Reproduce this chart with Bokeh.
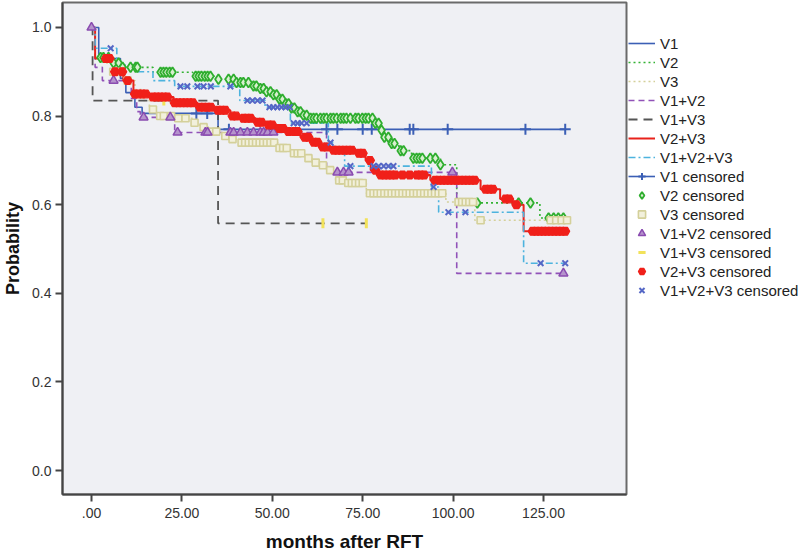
import numpy as np
from bokeh.plotting import figure
from bokeh.layouts import row
from bokeh.models import Range1d, FixedTicker, Legend, LegendItem
from bokeh.embed import file_html
from bokeh.resources import INLINE

# ---------------- data ----------------
x_ticks = [0, 25, 50, 75, 100, 125]
x_tick_labels = [".00", "25.00", "50.00", "75.00", "100.00", "125.00"]
y_ticks = [0.0, 0.2, 0.4, 0.6, 0.8, 1.0]
y_tick_labels = ["0.0", "0.2", "0.4", "0.6", "0.8", "1.0"]

groups = ["V1", "V2", "V3", "V1+V2", "V1+V3", "V2+V3", "V1+V2+V3"]

# step curves: event times and survival after each time, plus end of follow-up
v1_times = [0, 2, 8, 9.5, 12, 14, 35]
v1_surv = [1.0, 0.93, 0.885, 0.853, 0.82, 0.806, 0.77]
v1_end = 131
v1_cens = [29, 32, 38, 65, 68, 75, 77.5, 88, 89, 98.5, 120, 131]

v2_times = [0, 1, 5, 8, 17, 28, 35, 40, 44, 46, 48, 50, 52, 53.5, 55, 56.5, 58, 60,
            78, 79.5, 81, 83, 85, 88.5, 96.5, 101, 124]
v2_surv = [1.0, 0.932, 0.92, 0.91, 0.899, 0.89, 0.883, 0.876, 0.868, 0.862, 0.855,
           0.848, 0.838, 0.828, 0.818, 0.81, 0.802, 0.795, 0.784, 0.768, 0.752,
           0.738, 0.722, 0.705, 0.69, 0.604, 0.57]
v2_end = 131
v2_cens = [2.5, 3.3, 4.7, 6.1, 7.5, 8.6, 10.8, 12.2, 12.7, 19.1, 19.9, 20.7, 21.6,
           22.4, 28.8, 29.6, 30.4, 31.3, 32.1, 32.9, 35.1, 37.9, 39.3, 40.1, 41.2,
           42.0, 43.4, 44.8, 45.6, 46.7, 47.6, 48.4, 49.5, 50.3, 51.2, 52.0, 52.8,
           53.7, 54.5, 55.3, 56.1, 57.0, 57.8, 58.6, 59.5, 60.6, 61.4, 62.2, 63.3,
           64.2, 65.0, 66.1, 66.9, 67.8, 68.9, 69.7, 70.5, 71.6, 73.0, 73.8, 74.9,
           75.8, 76.6, 77.7, 78.5, 79.4, 80.2, 81.0, 82.1, 83.0, 83.8, 85.5, 86.3,
           89.0, 89.9, 90.7, 91.5, 93.7, 95.1, 96.5, 106.7, 118.1, 121.4, 126.4,
           127.8, 129.1, 130.5]

v3_times = [0, 1, 4, 6, 9, 12, 14, 16, 18, 23, 28, 30, 33, 36, 38, 41, 51.5, 55, 59,
            61, 63, 65, 66.5, 67.5, 70, 76, 98, 106]
v3_surv = [1.0, 0.93, 0.92, 0.90, 0.88, 0.86, 0.835, 0.815, 0.80, 0.795, 0.785,
           0.775, 0.765, 0.755, 0.748, 0.74, 0.728, 0.716, 0.705, 0.695, 0.689,
           0.678, 0.668, 0.655, 0.649, 0.626, 0.606, 0.565]
v3_end = 132
v3_cens = [6, 8, 10, 17, 19, 20, 22, 24, 26, 28.5, 31, 33.5, 34.5, 37, 39, 41.5,
           42.5, 43.5, 44.5, 45.5, 46.5, 47.5, 48.5, 49.5, 50.5, 52, 53, 54, 56,
           57, 58, 60, 62, 64, 66, 68.5, 69.5, 71, 72, 73, 74, 75, 77, 78, 79, 80,
           81, 82, 83, 84, 85, 86, 87, 88, 89, 90, 91, 92, 93, 94, 95, 96, 97,
           101.5, 102.5, 103.5, 104.5, 105.5, 107.6, 127, 128.5, 130, 131.5]

v12_times = [0, 1, 3, 11, 12.5, 13.5, 23, 65, 101]
v12_surv = [1.0, 0.91, 0.88, 0.84, 0.81, 0.797, 0.763, 0.673, 0.445]
v12_end = 131
v12_cens = [0, 6.1, 14.4, 21.8, 23.8, 31.5, 32.1, 38.4, 39.3, 41.2, 43.1, 44.8,
            46.7, 47.6, 48.7, 50.3, 68.0, 69.7, 71.1, 99.8, 130.5]

v13_times = [0, 0.3, 35]
v13_surv = [1.0, 0.835, 0.558]
v13_end = 76
v13_cens = [20, 64, 76]

v23_times = [0, 1, 6, 8.8, 11.6, 15.8, 22.7, 29.3, 33.7, 38.4, 41.2, 45.4, 48.1,
             50.9, 53.7, 57.8, 60.6, 63.3, 66.1, 73, 75.8, 77.2, 79.4, 93.7, 107.6,
             113, 116.5, 119.5]
v23_surv = [1.0, 0.93, 0.90, 0.88, 0.85, 0.843, 0.83, 0.82, 0.813, 0.80, 0.795,
            0.786, 0.78, 0.772, 0.765, 0.752, 0.741, 0.73, 0.723, 0.716, 0.70,
            0.678, 0.667, 0.655, 0.635, 0.613, 0.60, 0.54]
v23_end = 132
v23_cens = [4, 5, 6.5, 8.5, 10, 12, 13, 14, 15, 17, 18, 19, 20, 21, 23, 24, 25, 26,
            27, 28, 30, 31, 32, 33, 35, 36, 37, 39, 40, 42, 43, 44, 46, 47, 49, 50,
            52, 53, 54.5, 56, 57, 59, 60, 61.5, 62.5, 64, 65, 67, 68, 69, 70, 71,
            72, 74, 75, 77, 78.5, 80, 81, 82, 83, 84, 86, 88, 90, 91, 92, 95, 96,
            97, 98, 99, 100, 101, 102, 103, 104, 105, 106, 109, 110, 111, 114.5,
            115.5, 117.5, 122, 123, 124, 125, 126, 127, 128, 129, 130, 131]

v123_times = [0, 1, 7, 12, 17, 23, 41, 48, 55, 65.5, 67, 70, 94, 96, 119.5]
v123_surv = [1.0, 0.953, 0.915, 0.90, 0.88, 0.867, 0.835, 0.82, 0.784, 0.74,
             0.716, 0.687, 0.64, 0.583, 0.468]
v123_end = 131
v123_cens = [5.3, 24.6, 26.5, 29.3, 31, 33, 38.4, 43.1, 44.5, 45.9, 47.3, 49.2,
             50.3, 51.4, 52.5, 53.7, 54.8, 55.9, 57, 58.1, 59.5, 66.1, 71.6, 78,
             79.4, 80.8, 82.1, 83.5, 94.6, 98.7, 103.4, 124.2, 131]

curves = {
    "V1": (v1_times, v1_surv, v1_end, v1_cens),
    "V2": (v2_times, v2_surv, v2_end, v2_cens),
    "V3": (v3_times, v3_surv, v3_end, v3_cens),
    "V1+V2": (v12_times, v12_surv, v12_end, v12_cens),
    "V1+V3": (v13_times, v13_surv, v13_end, v13_cens),
    "V2+V3": (v23_times, v23_surv, v23_end, v23_cens),
    "V1+V2+V3": (v123_times, v123_surv, v123_end, v123_cens),
}

# ---------------- styles ----------------
line_style = {
    "V1": dict(color="#3B5FB5", dash="solid", width=1.6),
    "V2": dict(color="#33B233", dash="2 3", width=1.6),
    "V3": dict(color="#D4D09A", dash="2 3", width=1.6),
    "V1+V2": dict(color="#9152B8", dash="6 4", width=1.6),
    "V1+V3": dict(color="#555555", dash="9 6", width=1.8),
    "V2+V3": dict(color="#E8221B", dash="solid", width=2.0),
    "V1+V2+V3": dict(color="#4DB3DE", dash="7 3 2 3", width=1.6),
}
marker_style = {
    "V1": dict(marker="cross", size=11, line_color="#3B5FB5", fill_color=None, line_width=2, angle=0),
    "V2": dict(marker="diamond", size=10, line_color="#2FAE2F", fill_color="#D9EFD0", line_width=1.8, angle=0),
    "V3": dict(marker="square", size=7, line_color="#D4D09A", fill_color="#F2F0DC", line_width=1.6, angle=0),
    "V1+V2": dict(marker="triangle", size=9, line_color="#8A4CB0", fill_color="#B593CC", line_width=1.5, angle=0),
    "V1+V3": dict(marker="dash", size=10, line_color="#F2E25A", fill_color=None, line_width=3, angle=np.pi / 2),
    "V2+V3": dict(marker="hex", size=9, line_color="#F0201A", fill_color="#F0201A", line_width=1.2, angle=0),
    "V1+V2+V3": dict(marker="x", size=8, line_color="#5567C6", fill_color=None, line_width=2, angle=0),
}

# ---------------- main figure ----------------
p = figure(width=628, height=554, output_backend="svg", toolbar_location=None,
           x_range=Range1d(-8.02, 147.95), y_range=Range1d(-0.054, 1.0563),
           min_border_left=62, min_border_right=2, min_border_top=2,
           min_border_bottom=59)
p.background_fill_color = "#EFF0F4"
p.border_fill_color = "white"
p.outline_line_color = "#6A6A6A"
p.outline_line_width = 2
p.xgrid.visible = False
p.ygrid.visible = False

for ax in (p.xaxis[0], p.yaxis[0]):
    ax.axis_line_color = "#444444"
    ax.axis_line_width = 2
    ax.major_tick_line_color = "#444444"
    ax.major_tick_line_width = 2
    ax.major_tick_out = 7
    ax.major_tick_in = 0
    ax.minor_tick_line_color = None
    ax.major_label_text_font = "Liberation Sans"
    ax.major_label_text_font_size = "14px"
    ax.major_label_text_color = "#333333"
    ax.axis_label_text_font = "Liberation Sans"
    ax.axis_label_text_font_style = "bold"
    ax.axis_label_text_color = "#111111"

p.xaxis.ticker = FixedTicker(ticks=x_ticks)
p.xaxis.major_label_overrides = {t: l for t, l in zip(x_ticks, x_tick_labels)}
p.yaxis.ticker = FixedTicker(ticks=y_ticks)
p.yaxis.major_label_overrides = {t: l for t, l in zip(y_ticks, y_tick_labels)}
p.xaxis.axis_label = "months after RFT"
p.yaxis.axis_label = "Probability"
p.xaxis.axis_label_text_font_size = "19px"
p.yaxis.axis_label_text_font_size = "18px"
p.xaxis.major_label_standoff = 6
p.xaxis.axis_label_standoff = 10
p.yaxis.major_label_standoff = 4
p.yaxis.axis_label_standoff = 6

for g in groups:
    t, s, end, cens = curves[g]
    xs = list(t) + [end]
    ys = list(s) + [s[-1]]
    st = line_style[g]
    p.step(xs, ys, mode="after", line_color=st["color"],
           line_dash=st["dash"], line_width=st["width"])

for g in groups:
    t, s, end, cens = curves[g]
    t_arr = np.asarray(t, dtype=float)
    s_arr = np.asarray(s, dtype=float)
    c = np.asarray(cens, dtype=float)
    idx = np.searchsorted(t_arr, c, side="right") - 1
    cy = s_arr[np.clip(idx, 0, len(s_arr) - 1)]
    ms = marker_style[g]
    p.scatter(c, cy, marker=ms["marker"], size=ms["size"],
              line_color=ms["line_color"], fill_color=ms["fill_color"],
              line_width=ms["line_width"], angle=ms["angle"])

# ---------------- legend figure ----------------
lg = figure(width=172, height=554, output_backend="svg", toolbar_location=None,
            x_range=Range1d(0, 1), y_range=Range1d(0, 1),
            min_border_left=0, min_border_right=0, min_border_top=0,
            min_border_bottom=0, x_axis_type=None, y_axis_type=None)
lg.outline_line_color = None
lg.background_fill_color = "white"
lg.border_fill_color = "white"
lg.xgrid.visible = False
lg.ygrid.visible = False

# hidden proxy renderers (outside the visible range) that only feed the legend
proxy_x = [-5, -4]
proxy_y = [-5, -4]
leg_line = {}
leg_mark = {}
for g in groups:
    st = line_style[g]
    leg_line[g] = lg.line(proxy_x, proxy_y, line_color=st["color"], line_dash=st["dash"],
                          line_width=st["width"])
for g in groups:
    ms = marker_style[g]
    leg_mark[g] = lg.scatter(proxy_x, proxy_y, marker=ms["marker"], size=ms["size"],
                             line_color=ms["line_color"], fill_color=ms["fill_color"],
                             line_width=ms["line_width"], angle=ms["angle"])

items = [LegendItem(label=g, renderers=[leg_line[g]]) for g in groups]
for g in groups:
    rs = [leg_line[g], leg_mark[g]] if g == "V1" else [leg_mark[g]]
    items.append(LegendItem(label=g + " censored", renderers=rs))

legend = Legend(items=items, location=(0, 195), glyph_width=27, glyph_height=18,
                label_height=18, spacing=1, padding=0, margin=0,
                label_standoff=5, label_text_font="Liberation Sans",
                label_text_font_size="15px", label_text_color="#222222",
                border_line_color=None, background_fill_alpha=0)
lg.add_layout(legend)

layout = row(p, lg)
open("out.html", "w").write(file_html(layout, INLINE))
